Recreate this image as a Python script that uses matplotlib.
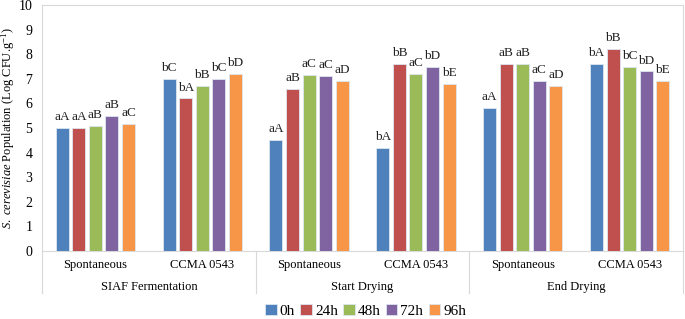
import numpy as np
import matplotlib.pyplot as plt
import matplotlib.transforms as mtransforms

plt.rcParams['font.family'] = ['Liberation Serif', 'DejaVu Serif']
plt.rcParams['mathtext.fontset'] = 'custom'
plt.rcParams['mathtext.rm'] = 'Liberation Serif'
plt.rcParams['mathtext.it'] = 'Liberation Serif:italic'

# Data
stages = ['SIAF Fermentation', 'Start Drying', 'End Drying']
inocula = ['Spontaneous', 'CCMA 0543']
times = ['0h', '24h', '48h', '72h', '96h']
colors = ['#4F81BD', '#C0504D', '#9BBB59', '#8064A2', '#F79646']

# rows: categories (stage x inoculum), cols: time
values = np.array([
    [5.0, 5.0, 5.1, 5.5, 5.15],
    [7.0, 6.2, 6.7, 7.0, 7.2],
    [4.5, 6.6, 7.15, 7.1, 6.9],
    [4.2, 7.6, 7.2, 7.5, 6.8],
    [5.8, 7.6, 7.6, 6.9, 6.7],
    [7.6, 8.2, 7.5, 7.3, 6.9],
])
letters = [
    ['aA', 'aA', 'aB', 'aB', 'aC'],
    ['bC', 'bA', 'bB', 'bC', 'bD'],
    ['aA', 'aB', 'aC', 'aC', 'aD'],
    ['bA', 'bB', 'aC', 'bD', 'bE'],
    ['aA', 'aB', 'aB', 'aC', 'aD'],
    ['bA', 'bB', 'bC', 'bD', 'bE'],
]

fig = plt.figure(figsize=(6.85, 3.19), dpi=100)
ax = fig.add_axes([42 / 685, 68 / 319, 641 / 685, 246 / 319])

n_cat = values.shape[0]
x = np.arange(n_cat)
width = 0.122
pitch = 0.155
for j, t in enumerate(times):
    pos = x + (j - 2) * pitch
    ax.bar(pos, values[:, j], width=width, color=colors[j],
           edgecolor='#dde6f0', linewidth=0.6, label=t, zorder=3)
    for i in range(n_cat):
        ax.text(pos[i], values[i, j] + 0.2, letters[i][j], ha='center',
                va='bottom', fontsize=9.5, color='#222222')

ax.set_xlim(-0.5, n_cat - 0.5)
ax.set_ylim(0, 10)
ax.set_yticks(range(0, 11))
ax.tick_params(axis='y', length=0, labelsize=10, pad=7)
ax.set_xticks([])
for s in ['top', 'right', 'left', 'bottom']:
    ax.spines[s].set_color('#d9d9d9')
    ax.spines[s].set_linewidth(0.8)

ax.set_ylabel(r'$\mathit{S.\ cerevisiae}$ Population (Log CFU.g$^{-1}$)',
              fontsize=9, va='center')
ax.yaxis.set_label_coords(-34 / 641, 0.5)

# multi-level x axis
trans = mtransforms.blended_transform_factory(ax.transData, ax.transAxes)
for i in range(n_cat):
    ax.text(x[i], -14 / 246, inocula[i % 2], transform=trans, ha='center',
            va='center', fontsize=9)
for k, st in enumerate(stages):
    ax.text(2 * k + 0.5, -36 / 246, st, transform=trans, ha='center',
            va='center', fontsize=9)
for b in [-0.5, 1.5, 3.5, 5.5]:
    ax.plot([b, b], [0, -42 / 246], transform=trans, color='#d9d9d9',
            lw=0.8, clip_on=False)

ax.legend(loc='center', bbox_to_anchor=(0.505, -60 / 246), ncol=5,
          frameon=False, prop={'family': 'Liberation Serif', 'size': 11},
          handlelength=0.75, handleheight=0.75,
          handletextpad=0.2, columnspacing=0.35, borderaxespad=0,
          borderpad=0)

fig.savefig('out.png', dpi=100)
